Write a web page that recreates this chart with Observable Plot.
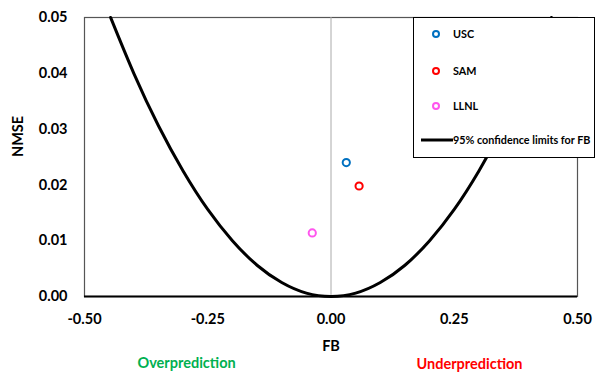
<!DOCTYPE html>
<html><head><meta charset="utf-8">
<script src="https://cdn.jsdelivr.net/npm/d3@7"></script>
<script src="https://cdn.jsdelivr.net/npm/@observablehq/plot@0.6"></script>
<style>
body{margin:0;background:#fff;font-family:Lato,"Liberation Sans",sans-serif;}
#wrap{position:relative;width:595px;height:372px;}
#legend{position:absolute;left:413px;top:17px;width:180px;height:139px;border:1px solid #000;background:#fff;font-weight:bold;font-size:10.8px;color:#000;}
#legend .it{position:absolute;left:0;height:14px;line-height:14px;white-space:nowrap;}
#legend svg{position:absolute;}
</style></head>
<body><div id="wrap"></div>
<script>
// Model points
const models = ["USC", "SAM", "LLNL"];
const modelFB = [0.031, 0.057, -0.038];
const modelNMSE = [0.0240, 0.0198, 0.0114];
const modelColors = ["#0070C0", "#FF0000", "#FF55EE"];
// 95% confidence limit curve
const curveFB = [-0.447, -0.40, -0.35, -0.30, -0.25, -0.20, -0.15, -0.10, -0.05, 0, 0.05, 0.10, 0.15, 0.20, 0.25, 0.30, 0.35, 0.40, 0.447];
const curveNMSE = [0.050, 0.040, 0.0306, 0.0225, 0.0156, 0.0100, 0.0056, 0.0025, 0.0006, 0, 0.0006, 0.0025, 0.0056, 0.0100, 0.0156, 0.0225, 0.0306, 0.040, 0.050];
const xTicks = [-0.5, -0.25, 0, 0.25, 0.5];
const yTicks = [0, 0.01, 0.02, 0.03, 0.04, 0.05];
const curveLabel = "95% confidence limits for FB";

const pts = models.map((m, i) => ({model: m, fb: modelFB[i], nmse: modelNMSE[i], color: modelColors[i]}));
const curve = curveFB.map((f, i) => ({fb: f, nmse: curveNMSE[i]}));

const chart = Plot.plot({
  width: 595, height: 372,
  marginLeft: 84, marginRight: 18, marginTop: 17, marginBottom: 76,
  style: {fontFamily: "Lato, 'Liberation Sans', sans-serif", fontWeight: "bold", fontSize: "14px", color: "#000", background: "#fff"},
  x: {domain: [-0.5, 0.5], ticks: xTicks, tickFormat: d => d.toFixed(2)},
  y: {domain: [0, 0.05], ticks: yTicks, tickFormat: d => d.toFixed(2)},
  marks: [
    Plot.frame({stroke: "#555", strokeWidth: 1.2}),
    Plot.ruleX([0], {stroke: "#aaa", strokeWidth: 1}),
    Plot.axisX({ticks: xTicks, tickFormat: d => d.toFixed(2), tickSize: 0, tickPadding: 17, label: null, fontSize: 14.5}),
    Plot.axisY({ticks: yTicks, tickFormat: d => d.toFixed(2), tickSize: 0, tickPadding: 17, label: null, fontSize: 14.5}),
    Plot.line(curve, {x: "fb", y: "nmse", stroke: "#000", strokeWidth: 3, curve: "natural"}),
    Plot.ruleY([0], {stroke: "#000", strokeWidth: 1.8}),
    Plot.dot(pts, {x: "fb", y: "nmse", stroke: "color", r: 3.6, strokeWidth: 2, fill: "none"}),
    Plot.text(["FB"], {frameAnchor: "bottom", dy: 50, lineAnchor: "middle", fontSize: 14.5, fill: "#000"}),
    Plot.text(["NMSE"], {frameAnchor: "left", dx: -66, rotate: -90, fontSize: 14.5, fill: "#000"}),
    Plot.text(["Overprediction"], {x: -0.293, y: 0, dy: 67, lineAnchor: "middle", fontSize: 14.5, fill: "#00B050"}),
    Plot.text(["Underprediction"], {x: 0.281, y: 0, dy: 68, lineAnchor: "middle", fontSize: 14.5, fill: "#FF0000"})
  ]
});
const wrap = document.getElementById("wrap");
wrap.appendChild(chart);

// Legend
const lg = document.createElement("div");
lg.id = "legend";
const ys = [9, 46, 81];
models.forEach((m, i) => {
  const s = document.createElementNS("http://www.w3.org/2000/svg", "svg");
  s.setAttribute("width", 12); s.setAttribute("height", 12);
  s.style.left = "16px"; s.style.top = (ys[i] + 1) + "px";
  s.innerHTML = `<circle cx="6" cy="6" r="3" fill="none" stroke="${modelColors[i]}" stroke-width="2"/>`;
  lg.appendChild(s);
  const t = document.createElement("div");
  t.className = "it"; t.style.left = "39px"; t.style.top = ys[i] + "px"; t.textContent = m;
  lg.appendChild(t);
});
const s2 = document.createElementNS("http://www.w3.org/2000/svg", "svg");
s2.setAttribute("width", 32); s2.setAttribute("height", 6);
s2.style.left = "7px"; s2.style.top = "119px";
s2.innerHTML = `<line x1="0" y1="3" x2="32" y2="3" stroke="#000" stroke-width="3"/>`;
lg.appendChild(s2);
const t2 = document.createElement("div");
t2.className = "it"; t2.style.left = "39px"; t2.style.top = "115px"; t2.textContent = curveLabel;
lg.appendChild(t2);
wrap.appendChild(lg);
</script></body></html>
